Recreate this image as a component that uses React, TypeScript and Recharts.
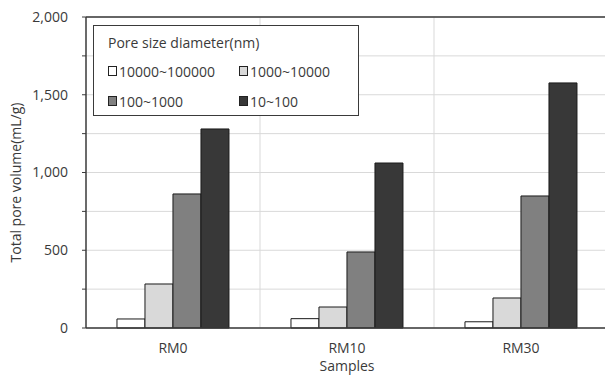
import { BarChart, Bar, XAxis, YAxis, CartesianGrid, Legend, ReferenceLine } from 'recharts'

const SAMPLES = ['RM0', 'RM10', 'RM30']
const SIZE_RANGES = ['10000~100000', '1000~10000', '100~1000', '10~100']
const VOL_10000_100000 = [58, 60, 40]
const VOL_1000_10000 = [283, 135, 193]
const VOL_100_1000 = [862, 489, 849]
const VOL_10_100 = [1280, 1061, 1576]
const Y_TICKS = [0, 250, 500, 750, 1000, 1250, 1500, 1750, 2000]

const FILLS = ['#ffffff', '#d9d9d9', '#808080', '#383838']
const FONT = '"Open Sans", "Noto Sans", sans-serif'
const TEXT = '#3a3a3a'

const data = SAMPLES.map((s, i) => ({
  sample: s,
  s0: VOL_10000_100000[i],
  s1: VOL_1000_10000[i],
  s2: VOL_100_1000[i],
  s3: VOL_10_100[i],
}))

const fmt = (v: number) => (v % 500 === 0 ? v.toLocaleString('en-US') : '')

function LegendBox({ payload }: any) {
  const items = (payload ?? []) as any[]
  return (
    <div
      style={{
        width: 266,
        height: 91,
        border: '1.5px solid #3a3a3a',
        background: '#fff',
        fontFamily: FONT,
        fontSize: 14,
        color: TEXT,
        boxSizing: 'border-box',
        padding: '4px 0 0 14px',
        textAlign: 'left',
      }}
    >
      <div style={{ height: 26, lineHeight: '26px' }}>Pore size diameter(nm)</div>
      <div style={{ display: 'grid', gridTemplateColumns: '131px 116px' }}>
        {items.map((it) => (
          <div key={it.value} style={{ height: 30, display: 'flex', alignItems: 'center', whiteSpace: 'nowrap' }}>
            <span
              style={{
                display: 'inline-block',
                width: 7,
                height: 8,
                marginRight: 2,
                border: '1px solid #222',
                background: it.color,
              }}
            />
            {it.value}
          </div>
        ))}
      </div>
    </div>
  )
}

export default function App() {
  return (
    <div style={{ position: 'absolute', left: 0, top: 0, width: 605, height: 376, overflow: 'hidden', background: '#fff' }}>
      <BarChart
        width={612}
        height={376}
        data={data}
        margin={{ top: 17, right: 4, bottom: 0, left: 0 }}
        barCategoryGap="17.8%"
        barGap={0}
      >
        <CartesianGrid
          stroke="#d9d9d9"
          verticalCoordinatesGenerator={({ offset }: any) =>
            SAMPLES.slice(1).map((_, i) => offset.left + ((i + 1) * offset.width) / SAMPLES.length)
          }
        />
        <XAxis
          dataKey="sample"
          height={48}
          axisLine={{ stroke: '#3a3a3a', strokeWidth: 1.5 }}
          tickLine={false}
          tickSize={0}
          tickMargin={15}
          tick={{ fill: TEXT, fontSize: 14, fontFamily: FONT }}
          label={{ value: 'Samples', position: 'insideBottom', offset: 5, fill: TEXT, fontSize: 14, fontFamily: FONT }}
        />
        <YAxis
          width={86}
          domain={[0, 2000]}
          ticks={Y_TICKS}
          interval={0}
          tickFormatter={fmt}
          axisLine={{ stroke: '#3a3a3a', strokeWidth: 1.5 }}
          tickLine={{ stroke: '#3a3a3a' }}
          tickSize={4}
          tickMargin={14}
          tick={{ fill: TEXT, fontSize: 14, fontFamily: FONT }}
          label={(props: any) => {
            const vb = props.viewBox
            const x = 15
            const y = vb.y + vb.height / 2 + 10
            return (
              <text
                x={x}
                y={y}
                transform={`rotate(-90 ${x} ${y})`}
                textAnchor="middle"
                dominantBaseline="central"
                fill={TEXT}
                fontSize={14}
                fontFamily={FONT}
              >
                Total pore volume(mL/g)
              </text>
            )
          }}
        />
        <ReferenceLine y={2000} stroke="#3a3a3a" strokeWidth={1.5} />
        <Legend
          content={<LegendBox />}
          layout="horizontal"
          verticalAlign="top"
          wrapperStyle={{ position: 'absolute', left: 93, top: 25, width: 266, height: 0, overflow: 'visible' }}
        />
        {['s0', 's1', 's2', 's3'].map((k, i) => (
          <Bar
            key={k}
            dataKey={k}
            name={SIZE_RANGES[i]}
            fill={FILLS[i]}
            stroke="#1a1a1a"
            strokeWidth={1}
            isAnimationActive={false}
          />
        ))}
      </BarChart>
    </div>
  )
}
